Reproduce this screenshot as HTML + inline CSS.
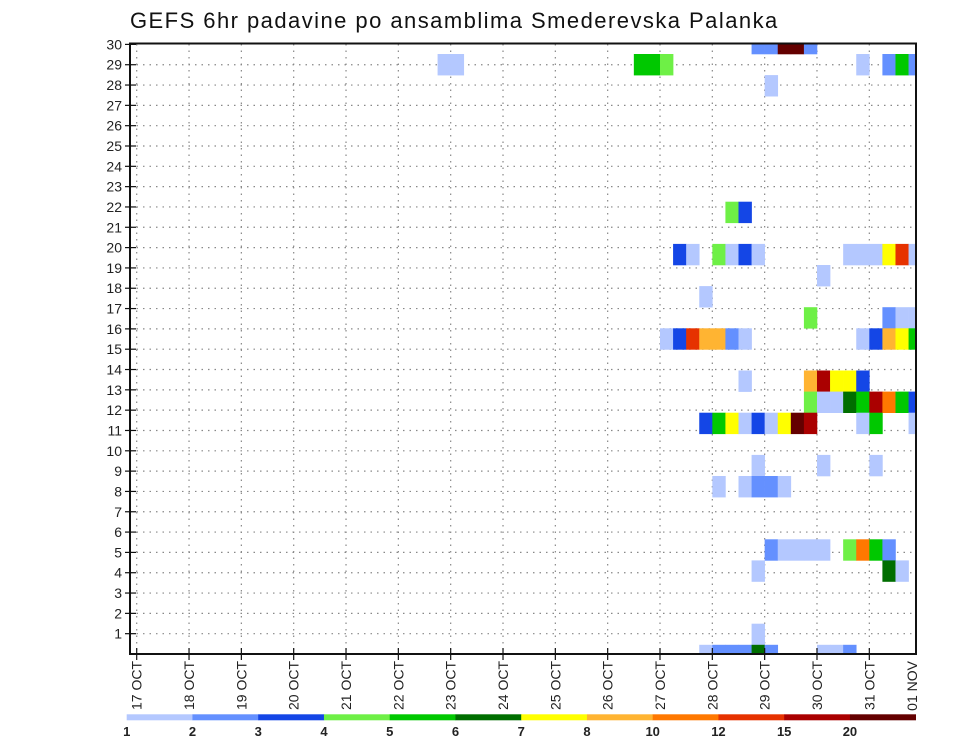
<!DOCTYPE html>
<html><head><meta charset="utf-8"><style>
html,body{margin:0;padding:0;background:#fff;}
svg{display:block;font-family:"Liberation Sans",sans-serif;}
</style></head><body>
<svg id="chart" width="960" height="742" viewBox="0 0 960 742">
<text x="130" y="28" font-size="22" letter-spacing="1.45" fill="#111">GEFS 6hr padavine po ansamblima Smederevska Palanka</text>
<defs><clipPath id="plotclip"><rect x="130" y="43" width="786" height="611"/></clipPath></defs>
<g id="grid"></g>
<g id="cells" clip-path="url(#plotclip)"></g>
<rect x="130" y="43.5" width="786" height="610.5" fill="none" stroke="#111" stroke-width="2"/>
<g id="axes"></g>
<g id="legend"></g>
</svg>
<script>
// day labels
const dayLabels = ["17 OCT","18 OCT","19 OCT","20 OCT","21 OCT","22 OCT","23 OCT","24 OCT","25 OCT","26 OCT","27 OCT","28 OCT","29 OCT","30 OCT","31 OCT","01 NOV"];
const memberTicks = [1,2,3,4,5,6,7,8,9,10,11,12,13,14,15,16,17,18,19,20,21,22,23,24,25,26,27,28,29,30];
const legendLabels = ["1","2","3","4","5","6","7","8","10","12","15","20"];
const thresholds = [1,2,3,4,5,6,7,8,10,12,15,20];
const binColors = ["#b4c8ff","#6490ff","#1446e6","#6ef046","#00c800","#006e00","#ffff00","#ffb432","#ff7800","#e63200","#aa0000","#640000"];
// cells: ensemble member, 6-hour step index from 17 OCT 00Z, precip (mm)
const cellMember = [
30,30,30,30,30,
29,29,29,29,29,29,29,29,29,
28,
22,22,
20,20,20,20,20,20,20,20,20,20,20,20,
19,18,
17,17,17,17,
16,16,16,16,16,16,16,16,16,16,16,16,
14,14,14,14,14,14,
13,13,13,13,13,13,13,13,13,
12,12,12,12,12,12,12,12,12,12,12,12,
10,10,10,
9,9,9,9,9,
6,6,6,6,6,6,6,6,6,
5,5,5,
2,
1,1,1,1,1,1,1,1,1];
const cellStep = [
47,48,49,50,51,
23,24,38,39,40,55,57,58,59,
48,
45,46,
41,42,44,45,46,47,54,55,56,57,58,59,
52,43,
51,57,58,59,
40,41,42,43,44,45,46,55,56,57,58,59,
46,51,52,53,54,55,
51,52,53,54,55,56,57,58,59,
43,44,45,46,47,48,49,50,51,55,56,59,
47,52,56,
44,46,47,48,49,
48,49,50,51,52,54,55,56,57,
47,57,58,
47,
43,44,45,46,47,48,52,53,54];
const cellValue = [
2.5,2.5,22,22,2.5,
1.5,1.5,5.5,5.5,4.5,1.5,2.5,5.5,2.5,
1.5,
4.5,3.5,
3.5,1.5,4.5,1.5,3.5,1.5,1.5,1.5,1.5,7.5,13,1.5,
1.5,1.5,
4.5,2.5,1.5,1.5,
1.5,3.5,13,9,9,2.5,1.5,1.5,3.5,9,7.5,5.5,
1.5,9,17,7.5,7.5,3.5,
4.5,1.5,1.5,6.5,5.5,17,11,5.5,3.5,
3.5,5.5,7.5,1.5,3.5,1.5,7.5,22,17,1.5,5.5,1.5,
1.5,1.5,1.5,
1.5,1.5,2.5,2.5,1.5,
2.5,1.5,1.5,1.5,1.5,4.5,11,5.5,2.5,
1.5,6.5,1.5,
1.5,
1.5,2.5,2.5,2.5,6.5,2.5,1.5,1.5,2.5];

const NS="http://www.w3.org/2000/svg";
const X0=136.7, DAY=52.33, STEP=DAY/4;
const xDay = d => X0 + d*DAY;
const xStep = s => X0 + s*STEP;
const yTick = k => 654 - k*20.32;
const CH=21.1;
const yCellTop = m => 54 + (29-m)*CH;
function colorFor(v){let c=null;for(let i=0;i<thresholds.length;i++){if(v>=thresholds[i])c=binColors[i];}return c;}
function mk(tag,attrs,parent){const e=document.createElementNS(NS,tag);for(const k in attrs)e.setAttribute(k,attrs[k]);parent.appendChild(e);return e;}

const grid=document.getElementById('grid');
memberTicks.forEach(k=>{ if(k<30){
  const l=mk('line',{x1:130,x2:916,y1:yTick(k),y2:yTick(k),stroke:'#888','stroke-width':1.2,'stroke-dasharray':'1.5 5'},grid);
  
  
}});
dayLabels.forEach((d,i)=>{ const x=xDay(i); if(x<916){
  const l=mk('line',{x1:x,x2:x,y1:44,y2:654,stroke:'#888','stroke-width':1.2,'stroke-dasharray':'1.5 5'},grid);
  
  
}});

const cells=document.getElementById('cells');
for(let i=0;i<cellMember.length;i++){
  const c=colorFor(cellValue[i]); if(!c) continue;
  const r=mk('rect',{x:xStep(cellStep[i]),y:yCellTop(cellMember[i]),width:STEP+0.3,height:CH+0.3,fill:c},cells);
  
  
}

const axes=document.getElementById('axes');
memberTicks.forEach(k=>{
  const y=yTick(k);
  const t=mk('line',{x1:125,x2:136,y1:y,y2:y,stroke:'#111','stroke-width':1.2},axes);
  
  
  const tx=mk('text',{x:122,y:y+5,'font-size':14,'text-anchor':'end',fill:'#222'},axes);
  tx.textContent=k;
  
  
});
dayLabels.forEach((d,i)=>{
  let x=xDay(i); if(x>916) x=912;
  if(i<dayLabels.length-1){
    const t=mk('line',{x1:x,x2:x,y1:648,y2:660,stroke:'#111','stroke-width':1.2},axes);
    
    
  }
  const tx=mk('text',{x:0,y:0,'font-size':14,'text-anchor':'end',fill:'#222',transform:`translate(${x+5},661) rotate(-90)`},axes);
  tx.textContent=d;
  
  
});

const leg=document.getElementById('legend');
const LW=65.75;
binColors.forEach((c,i)=>{
  const r=mk('rect',{x:126.7+i*LW,y:714.3,width:LW+0.3,height:6,fill:c},leg);
  
  
});
legendLabels.forEach((s,i)=>{
  const t=mk('text',{x:126.7+i*LW,y:736,'font-size':13,'font-weight':'bold','text-anchor':'middle',fill:'#222'},leg);
  t.textContent=s;
  
  
});
</script>
</body></html>
